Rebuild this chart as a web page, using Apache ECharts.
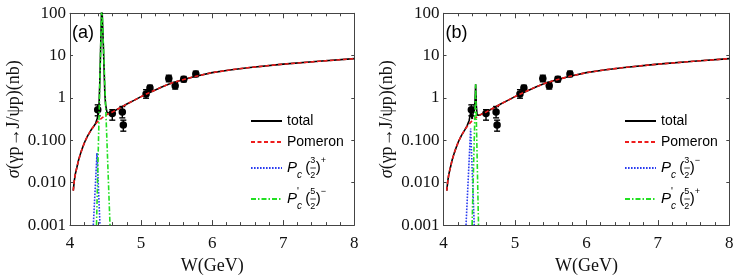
<!DOCTYPE html>
<html><head><meta charset="utf-8">
<script src="https://cdn.jsdelivr.net/npm/echarts@6/dist/echarts.min.js"></script>
<style>html,body{margin:0;padding:0;background:#fff}#c{width:747px;height:280px}</style>
</head><body><div id="c"></div>
<script>
// ---------- data ----------
const yTicks = [0.001, 0.01, 0.1, 1, 10, 100];
const xTicks = [4, 5, 6, 7, 8];

const pomeronW = [4.046,4.06,4.075,4.094,4.12,4.15,4.18,4.21,4.25,4.30,4.35,4.40,4.45,4.50,4.55,4.60,4.70,4.80,4.90,5.00,5.10,5.20,5.30,5.43,5.60,5.77,6.00,6.25,6.50,7.00,7.50,8.00];
const pomeronS = [0.0065,0.011,0.016,0.022,0.034,0.050,0.070,0.094,0.13,0.18,0.235,0.29,0.34,0.39,0.43,0.47,0.58,0.72,0.88,1.08,1.30,1.55,1.85,2.25,2.75,3.25,3.98,4.6,5.2,6.3,7.35,8.5];

// panel (a)
const totalAW = [4.046,4.06,4.075,4.094,4.12,4.15,4.18,4.21,4.25,4.30,4.33,4.36,4.38,4.40,4.41,4.42,4.43,4.443,4.447,4.453,4.47,4.49,4.50,4.52,4.55,4.60,4.70,4.80,4.90,5.00,5.10,5.20,5.30,5.43,5.60,5.77,6.00,6.25,6.50,7.00,7.50,8.00];
const totalAS = [0.0065,0.011,0.016,0.022,0.034,0.050,0.070,0.094,0.13,0.18,0.21,0.25,0.32,0.42,0.8,2.6,13,100,200,100,16,1.3,0.72,0.46,0.43,0.47,0.58,0.72,0.88,1.08,1.30,1.55,1.85,2.25,2.75,3.25,3.98,4.6,5.2,6.3,7.35,8.5];
const pc32pW = [4.328, 4.38, 4.422];
const pc32pS = [0.001, 0.05, 0.001];
const pc52mW = [4.373, 4.447, 4.563];
const pc52mS = [0.001, 200, 0.001];

// panel (b)
const totalBW = [4.046,4.06,4.075,4.094,4.12,4.15,4.18,4.21,4.25,4.30,4.33,4.36,4.38,4.40,4.42,4.44,4.45,4.46,4.47,4.48,4.50,4.55,4.60,4.70,4.80,4.90,5.00,5.10,5.20,5.30,5.43,5.60,5.77,6.00,6.25,6.50,7.00,7.50,8.00];
const totalBS = [0.0065,0.011,0.016,0.022,0.034,0.050,0.070,0.094,0.13,0.18,0.22,0.30,0.46,0.32,0.33,0.78,2.1,0.65,0.40,0.36,0.39,0.43,0.47,0.58,0.72,0.88,1.08,1.30,1.55,1.85,2.25,2.75,3.25,3.98,4.6,5.2,6.3,7.35,8.5];
const pc32mW = [4.315, 4.38, 4.43];
const pc32mS = [0.001, 0.19, 0.001];
const pc52pW = [4.40, 4.45, 4.49];
const pc52pS = [0.001, 2.1, 0.001];

// experimental points
const dataW  = [4.39, 4.595, 4.736, 4.75, 5.07, 5.125, 5.39, 5.48, 5.60, 5.77];
const dataS  = [0.53, 0.43, 0.47, 0.23, 1.25, 1.72, 2.89, 1.95, 2.79, 3.71];
const dataLo = [0.38, 0.30, 0.34, 0.165, 0.99, 1.46, 2.42, 1.63, 2.4, 3.2];
const dataHi = [0.69, 0.53, 0.63, 0.30, 1.57, 2.0, 3.45, 2.33, 3.22, 4.3];

// ---------- build ----------
const zip = (a, b) => a.map((v, i) => [v, b[i]]);
const SERIF = 'Liberation Serif';
const SANS = 'Liberation Sans';
const AX = '#444';

const grids = [
  {left: 70, top: 13.3, width: 284.3, height: 214.4},
  {left: 443.5, top: 13.3, width: 285.8, height: 214.4}
];

function xAxes(gi) {
  return [{
    gridIndex: gi, type: 'value', min: 4, max: 8, interval: 1, position: 'bottom',
    axisLine: {lineStyle: {color: AX, width: 1}},
    axisTick: {inside: true, length: 5, lineStyle: {color: AX}},
    minorTick: {show: true, splitNumber: 5, length: 3, lineStyle: {color: AX}},
    splitLine: {show: false},
    axisLabel: {fontFamily: SERIF, fontSize: 17, color: '#111', margin: 10,
      formatter: v => xTicks.includes(v) ? String(v) : ''},
    name: 'W(GeV)', nameLocation: 'middle', nameGap: 26,
    nameTextStyle: {fontFamily: SERIF, fontSize: 18, color: '#111'}
  }, {
    gridIndex: gi, type: 'value', min: 4, max: 8, interval: 1, position: 'top',
    axisLine: {lineStyle: {color: AX, width: 1}},
    axisTick: {inside: true, length: 5, lineStyle: {color: AX}},
    minorTick: {show: true, splitNumber: 5, length: 3, lineStyle: {color: AX}},
    splitLine: {show: false}, axisLabel: {show: false}
  }];
}
function yAxes(gi) {
  return [{
    gridIndex: gi, type: 'log', logBase: 10, min: 0.001, max: 100, position: 'left',
    axisLine: {show: true, lineStyle: {color: AX, width: 1}},
    axisTick: {show: true, inside: true, length: 3, lineStyle: {color: AX}},
    splitLine: {show: false},
    axisLabel: {fontFamily: SERIF, fontSize: 17, color: '#111', margin: 4,
      formatter: v => {
        const t = yTicks.find(k => Math.abs(Math.log10(k) - Math.log10(v)) < 1e-6);
        if (t === undefined) return '';
        return t >= 1 ? String(t) : t.toFixed(3);
      }},
    name: '{i|σ}(γp→J/ψp)(nb)', nameLocation: 'middle', nameGap: 47,
    nameTextStyle: {fontFamily: SERIF, fontSize: 18, color: '#111',
      rich: {i: {fontFamily: SERIF, fontStyle: 'italic', fontSize: 18, color: '#111'}}}
  }, {
    gridIndex: gi, type: 'log', logBase: 10, min: 0.001, max: 100, position: 'right',
    axisLine: {show: true, lineStyle: {color: AX, width: 1}},
    axisTick: {show: true, inside: true, length: 3, lineStyle: {color: AX}},
    splitLine: {show: false}, axisLabel: {show: false}
  }];
}

const lineTotal = {color: '#000', width: 1.6, type: 'solid'};
const linePom = {color: '#ee1c1c', width: 1.6, type: [4, 2.5]};
const lineBlue = {color: '#2a3cf0', width: 1.6, type: [1.6, 1.4]};
const lineGreen = {color: '#22e022', width: 1.6, type: [5, 2, 1.5, 2]};

function lineSeries(name, gi, data, ls) {
  return {name, type: 'line', xAxisIndex: gi * 2, yAxisIndex: gi * 2, data,
    showSymbol: false, symbol: 'none', lineStyle: ls, itemStyle: {color: ls.color},
    clip: true, animation: false, silent: true};
}
function errSeries(gi) {
  return {type: 'custom', xAxisIndex: gi * 2, yAxisIndex: gi * 2, animation: false, silent: true,
    data: dataW.map((w, i) => [w, dataLo[i], dataHi[i]]),
    renderItem: (params, api) => {
      const lo = api.coord([api.value(0), api.value(1)]);
      const hi = api.coord([api.value(0), api.value(2)]);
      const st = {stroke: '#000', lineWidth: 1.4};
      return {type: 'group', children: [
        {type: 'line', shape: {x1: lo[0], y1: lo[1], x2: hi[0], y2: hi[1]}, style: st},
        {type: 'line', shape: {x1: lo[0] - 3, y1: lo[1], x2: lo[0] + 3, y2: lo[1]}, style: st},
        {type: 'line', shape: {x1: hi[0] - 3, y1: hi[1], x2: hi[0] + 3, y2: hi[1]}, style: st}
      ]};
    }};
}
function ptSeries(gi) {
  return {type: 'scatter', xAxisIndex: gi * 2, yAxisIndex: gi * 2, data: zip(dataW, dataS),
    symbol: 'circle', symbolSize: 7.5, itemStyle: {color: '#000', opacity: 1},
    animation: false, silent: true};
}

const rich = {
  t: {fontFamily: SANS, fontSize: 14, color: '#000'},
  P: {fontFamily: SANS, fontSize: 15, fontStyle: 'italic', color: '#000', lineHeight: 24},
  c: {fontFamily: SANS, fontSize: 10, fontStyle: 'italic', color: '#000', lineHeight: 17, verticalAlign: 'bottom'},
  pr: {fontFamily: SANS, fontSize: 10, color: '#000', lineHeight: 11, verticalAlign: 'top', width: 0},
  par: {fontFamily: SANS, fontSize: 15, color: '#000', lineHeight: 24},
  num: {fontFamily: SANS, fontSize: 9, color: '#000', lineHeight: 12, verticalAlign: 'top', width: 0},
  den: {fontFamily: SANS, fontSize: 9, color: '#000', lineHeight: 11, verticalAlign: 'bottom', width: 0},
  bar: {height: 0.8, width: 5.5, backgroundColor: '#000', verticalAlign: 'middle', lineHeight: 0.8},
  sup: {fontFamily: SANS, fontSize: 9, color: '#000', lineHeight: 12, verticalAlign: 'top'}
};
const legendText = {
  'total': '{t|total}',
  'Pomeron': '{t|Pomeron}',
  'Pc32p': '{P|P}{c|c} {par|(}{num|3}{den|2}{bar| }{par|)}{sup|+}',
  'Pc52m': '{P|P}{pr|\'}{c|c} {par|(}{num|5}{den|2}{bar| }{par|)}{sup|−}',
  'Pc32m': '{P|P}{c|c} {par|(}{num|3}{den|2}{bar| }{par|)}{sup|−}',
  'Pc52p': '{P|P}{pr|\'}{c|c} {par|(}{num|5}{den|2}{bar| }{par|)}{sup|+}'
};
function legend(left, names) {
  return {left, top: 114, orient: 'vertical', padding: 0, itemGap: 7,
    itemWidth: 31, itemHeight: 14, data: names, selectedMode: false,
    itemStyle: {opacity: 0},
    textStyle: {rich, color: '#000'},
    formatter: n => legendText[n]};
}

const option = {
  animation: false,
  backgroundColor: '#fff',
  grid: grids,
  xAxis: [...xAxes(0), ...xAxes(1)],
  yAxis: [...yAxes(0), ...yAxes(1)],
  legend: [legend(250, ['total', 'Pomeron', 'Pc32p', 'Pc52m']),
           legend(624, ['total', 'Pomeron', 'Pc32m', 'Pc52p'])],
  graphic: [
    {type: 'text', left: 72, top: 24, style: {text: '(a)', fontFamily: SANS, fontSize: 18, fill: '#000'}},
    {type: 'text', left: 445.5, top: 24, style: {text: '(b)', fontFamily: SANS, fontSize: 18, fill: '#000'}}
  ],
  series: [
    lineSeries('total', 0, zip(totalAW, totalAS), lineTotal),
    lineSeries('Pomeron', 0, zip(pomeronW, pomeronS), linePom),
    lineSeries('Pc32p', 0, zip(pc32pW, pc32pS), lineBlue),
    lineSeries('Pc52m', 0, zip(pc52mW, pc52mS), lineGreen),
    errSeries(0), ptSeries(0),
    lineSeries('total', 1, zip(totalBW, totalBS), lineTotal),
    lineSeries('Pomeron', 1, zip(pomeronW, pomeronS), linePom),
    lineSeries('Pc32m', 1, zip(pc32mW, pc32mS), lineBlue),
    lineSeries('Pc52p', 1, zip(pc52pW, pc52pS), lineGreen),
    errSeries(1), ptSeries(1)
  ]
};
const chart = echarts.init(document.getElementById('c'), null, {renderer: 'canvas'});
chart.setOption(option);
</script>
</body></html>
